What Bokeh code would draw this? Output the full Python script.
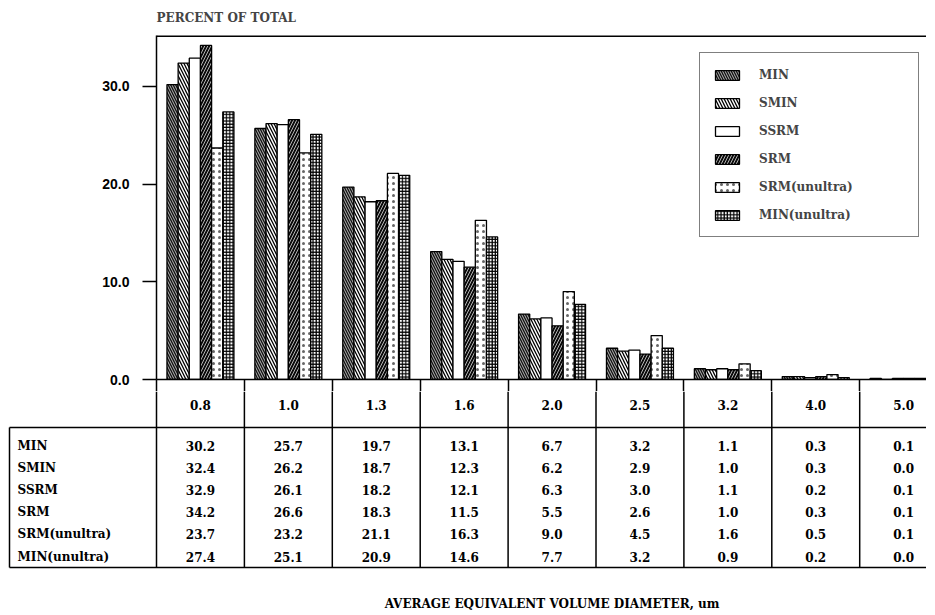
from bokeh.plotting import figure
from bokeh.models import Range1d, FixedTicker, PrintfTickFormatter, ColumnDataSource, Span
from bokeh.core.properties import value
from bokeh.embed import file_html
from bokeh.resources import INLINE

# ---------------- data ----------------
categories = ["0.8", "1.0", "1.3", "1.6", "2.0", "2.5", "3.2", "4.0", "5.0"]
series_names = ["MIN", "SMIN", "SSRM", "SRM", "SRM(unultra)", "MIN(unultra)"]
MIN = [30.2, 25.7, 19.7, 13.1, 6.7, 3.2, 1.1, 0.3, 0.1]
SMIN = [32.4, 26.2, 18.7, 12.3, 6.2, 2.9, 1.0, 0.3, 0.0]
SSRM = [32.9, 26.1, 18.2, 12.1, 6.3, 3.0, 1.1, 0.2, 0.1]
SRM = [34.2, 26.6, 18.3, 11.5, 5.5, 2.6, 1.0, 0.3, 0.1]
SRM_unultra = [23.7, 23.2, 21.1, 16.3, 9.0, 4.5, 1.6, 0.5, 0.1]
MIN_unultra = [27.4, 25.1, 20.9, 14.6, 7.7, 3.2, 0.9, 0.2, 0.0]
y_ticks = [0, 10, 20, 30]
y_title = "PERCENT OF TOTAL"
x_title = "AVERAGE EQUIVALENT VOLUME DIAMETER, um"

series_values = [MIN, SMIN, SSRM, SRM, SRM_unultra, MIN_unultra]

# ---------------- styles ----------------
styles = [
    dict(fill_color="#111111", hatch_pattern="\\", hatch_color="white", hatch_scale=5, hatch_weight=0.7),
    dict(fill_color="white", hatch_pattern="\\", hatch_color="black", hatch_scale=6, hatch_weight=1.3),
    dict(fill_color="white"),
    dict(fill_color="#0a0a0a", hatch_pattern="/", hatch_color="white", hatch_scale=6, hatch_weight=0.7),
    dict(fill_color="white", hatch_pattern="dot", hatch_color="#666666", hatch_scale=6, hatch_weight=0.5),
    dict(fill_color="white", hatch_pattern="+", hatch_color="black", hatch_scale=3.2, hatch_weight=1.2),
]

SERIF = value("DejaVu Serif")
PX_PER_CAT = 87.9
W = 926
LEFT = 156
FRAME_W = W - LEFT
X_END = FRAME_W / PX_PER_CAT
TOP_BORDER = 35
FRAME_H = 344
BOTTOM_BORDER = 12
TOP_H = TOP_BORDER + FRAME_H + BOTTOM_BORDER
TAB_H = 219
BW = 0.127
Y_MAX = 35.22
n = len(categories)

# ---------------- chart ----------------
p = figure(width=W, height=TOP_H, x_range=Range1d(0, X_END), y_range=Range1d(0, Y_MAX),
           output_backend="svg", toolbar_location=None,
           min_border_left=LEFT, min_border_right=0, min_border_top=TOP_BORDER,
           min_border_bottom=BOTTOM_BORDER)
p.grid.visible = False
p.outline_line_color = None
p.background_fill_color = "white"
p.add_layout(Span(location=Y_MAX, dimension="width", line_color="black", line_width=3))

p.title.text = y_title
p.title.align = "left"
p.title.vertical_align = "top"
p.title.offset = 0
p.title.standoff = 17
p.title.text_font = "DejaVu Serif"
p.title.text_font_style = "bold"
p.title.text_font_size = "12px"

ya = p.yaxis[0]
ya.ticker = FixedTicker(ticks=y_ticks, minor_ticks=[])
ya.formatter = PrintfTickFormatter(format="%.1f")
ya.major_tick_out = 14
ya.major_tick_in = 0
ya.major_tick_line_width = 1.5
ya.axis_line_width = 1.5
ya.major_label_standoff = 13
ya.major_label_text_font = "Liberation Sans"
ya.major_label_text_font_style = "bold"
ya.major_label_text_font_size = "14px"
ya.major_label_text_color = "black"

xa = p.xaxis[0]
xa.ticker = FixedTicker(ticks=list(range(n + 1)), minor_ticks=[])
xa.major_label_overrides = {i: "" for i in range(n + 1)}
xa.major_label_text_font_size = "0px"
xa.major_label_standoff = 0
xa.major_tick_out = BOTTOM_BORDER
xa.major_tick_in = 0
xa.major_tick_line_width = 1.5
xa.axis_line_width = 1.5

for s, (name, vals, st) in enumerate(zip(series_names, series_values, styles)):
    xs = [i + 0.5 + (s - 2.5) * BW for i in range(n)]
    src = ColumnDataSource(dict(x=xs, top=vals))
    p.vbar(x="x", top="top", width=BW, source=src, line_color="black", line_width=1.3,
           legend_label=name, **st)

lg = p.legend[0]
lg.location = (543, 142)
lg.margin = 0
lg.padding = 12
lg.glyph_width = 30
lg.glyph_height = 12
lg.label_standoff = 17
lg.label_width = 147
lg.label_height = 19
lg.spacing = 9
lg.border_line_color = "black"
lg.border_line_width = 1.5
lg.background_fill_alpha = 1
lg.label_text_font = "DejaVu Serif"
lg.label_text_font_style = "bold"
lg.label_text_font_size = "12px"

# ---------------- table ----------------
x0 = -LEFT / PX_PER_CAT
t = figure(width=W, height=TAB_H, x_range=Range1d(x0, X_END), y_range=Range1d(TAB_H, 0),
           output_backend="svg", toolbar_location=None, x_axis_location=None, y_axis_location=None,
           min_border=0)
t.grid.visible = False
t.outline_line_color = None

left_edge = (10 - 157) / PX_PER_CAT
label_x = (18 - 157) / PX_PER_CAT
header_y = 13
hline_y = 36
row0_y = 54
row_step = 22.2
bottom_y = 176
xtitle_y = 212

t.segment(x0=list(range(n + 1)), y0=[0] * (n + 1), x1=list(range(n + 1)), y1=[bottom_y] * (n + 1),
          line_color="black", line_width=1.5)
t.segment(x0=[left_edge, left_edge, left_edge], y0=[hline_y, bottom_y, hline_y],
          x1=[n, n, left_edge], y1=[hline_y, bottom_y, bottom_y],
          line_color="black", line_width=1.5)

t.text(x=[i + 0.5 for i in range(n)], y=[header_y] * n, text=categories,
       text_align="center", text_baseline="middle", text_font=SERIF,
       text_font_style="bold", text_font_size="12px", text_color="black")

for r, (name, vals) in enumerate(zip(series_names, series_values)):
    yy = row0_y + r * row_step
    t.text(x=[label_x], y=[yy], text=[name], text_align="left", text_baseline="middle",
           text_font=SERIF, text_font_style="bold", text_font_size="12px", text_color="black")
    t.text(x=[i + 0.5 for i in range(n)], y=[yy] * n, text=["%.1f" % v for v in vals],
           text_align="center", text_baseline="middle", text_font=SERIF,
           text_font_style="bold", text_font_size="12px", text_color="black")

t.text(x=[n / 2], y=[xtitle_y], text=[x_title], text_align="center", text_baseline="middle",
       text_font=SERIF, text_font_style="bold", text_font_size="12px", text_color="black")

open("out.html", "w").write(file_html([p, t], INLINE))
